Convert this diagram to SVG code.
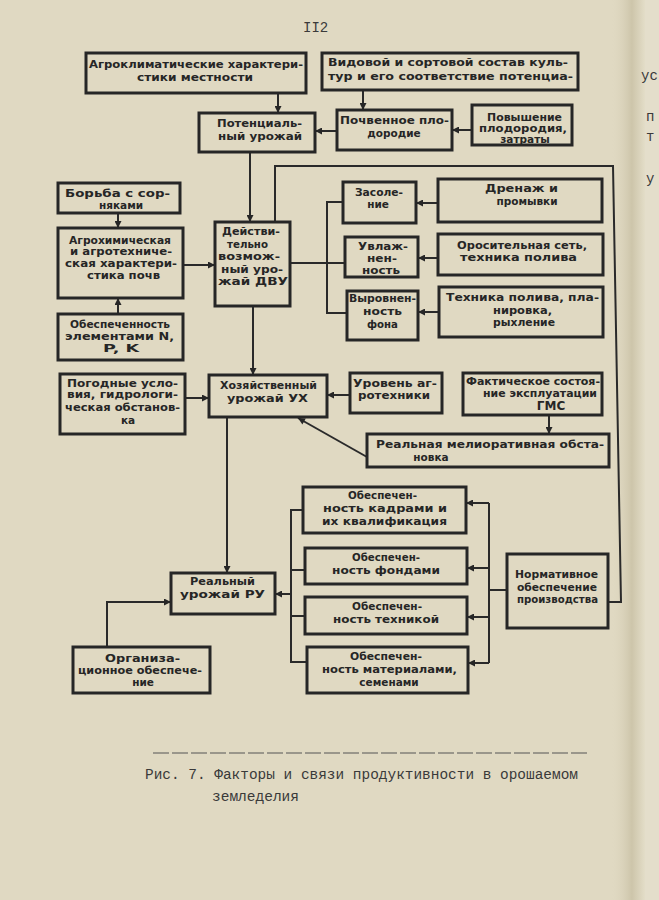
<svg xmlns="http://www.w3.org/2000/svg" width="659" height="900" viewBox="0 0 659 900">
<defs>
<style>
.b{fill:none;stroke:#262626;stroke-width:3}
.c{fill:none;stroke:#2a2a2a;stroke-width:2}
text{font-family:"DejaVu Sans","Liberation Sans",sans-serif;font-weight:bold;font-size:10.5px;fill:#262626}
.m{text-anchor:middle}
.t{font-family:"Liberation Mono","Courier New",monospace;font-weight:normal;font-size:14px;fill:#3a3a3a}
</style>
<marker id="a" viewBox="0 0 10 10" refX="10" refY="5" markerWidth="8" markerHeight="7" markerUnits="userSpaceOnUse" orient="auto">
<path d="M0,0 L10,5 L0,10 z" fill="#262626"/>
</marker>
<linearGradient id="fold" x1="0" x2="1" y1="0" y2="0">
<stop offset="0" stop-color="#ddd6bf" stop-opacity="0"/>
<stop offset="0.6" stop-color="#cdc5aa"/>
<stop offset="1" stop-color="#e3ddc8"/>
</linearGradient>
</defs>
<rect width="659" height="900" fill="#e0d9c2"/>
<rect x="612" width="33" height="900" fill="url(#fold)"/>
<rect x="645" width="14" height="900" fill="#e4decb"/>

<text class="t" x="303" y="32">II2</text>
<text class="t" x="641" y="80">ус</text>
<text class="t" x="646" y="121">п</text>
<text class="t" x="646" y="141">т</text>
<text class="t" x="646" y="183">у</text>

<g id="connectors">
<path class="c" d="M278,93 V113" marker-end="url(#a)"/>
<path class="c" d="M363,90 V110" marker-end="url(#a)"/>
<path class="c" d="M337,131 H315" marker-end="url(#a)"/>
<path class="c" d="M472,130 H452" marker-end="url(#a)"/>
<path class="c" d="M250,152 V222" marker-end="url(#a)"/>
<path class="c" d="M608,602 H621 L613,166 H275 V222"/>
<path class="c" d="M290,263 H345"/>
<path class="c" d="M343,202 H327 V313 H347"/>
<path class="c" d="M438,203 H416" marker-end="url(#a)"/>
<path class="c" d="M438,258 H418" marker-end="url(#a)"/>
<path class="c" d="M439,312 H418" marker-end="url(#a)"/>
<path class="c" d="M118,213 V228" marker-end="url(#a)"/>
<path class="c" d="M183,265 H215" marker-end="url(#a)"/>
<path class="c" d="M118,314 V298" marker-end="url(#a)"/>
<path class="c" d="M253,306 V375" marker-end="url(#a)"/>
<path class="c" d="M185,398 H209" marker-end="url(#a)"/>
<path class="c" d="M350,395 H327" marker-end="url(#a)"/>
<path class="c" d="M549,415 V434" marker-end="url(#a)"/>
<path class="c" d="M367,457 L298,418" marker-end="url(#a)"/>
<path class="c" d="M227,417 V573" marker-end="url(#a)"/>
<path class="c" d="M107,647 V602 H171" marker-end="url(#a)"/>
<path class="c" d="M291,594 H275" marker-end="url(#a)"/>
<path class="c" d="M303,510 H291 V662 H307 M291,570 H305 M291,616 H305"/>
<path class="c" d="M507,590 H489 M489,503 V663"/>
<path class="c" d="M489,503 H466" marker-end="url(#a)"/>
<path class="c" d="M489,568 H467" marker-end="url(#a)"/>
<path class="c" d="M489,617 H467" marker-end="url(#a)"/>
<path class="c" d="M489,663 H468" marker-end="url(#a)"/>
</g>

<g id="agroclimate">
<rect class="b" x="86" y="53" width="220" height="40"/>
<text x="89" y="68" textLength="214" lengthAdjust="spacingAndGlyphs">Агроклиматические характери-</text>
<text x="137" y="81" textLength="116" lengthAdjust="spacingAndGlyphs">стики местности</text>
</g>
<g id="species">
<rect class="b" x="322" y="53" width="256" height="37"/>
<text x="328" y="66" textLength="240" lengthAdjust="spacingAndGlyphs">Видовой и сортовой состав куль-</text>
<text x="328" y="80" textLength="245" lengthAdjust="spacingAndGlyphs">тур и его соответствие потенциа-</text>
</g>
<g id="potential">
<rect class="b" x="199" y="113" width="116" height="39"/>
<text x="217" y="127" textLength="85" lengthAdjust="spacingAndGlyphs">Потенциаль-</text>
<text x="218" y="140" textLength="84" lengthAdjust="spacingAndGlyphs">ный урожай</text>
</g>
<g id="soil">
<rect class="b" x="337" y="110" width="115" height="40"/>
<text x="340" y="124" textLength="109" lengthAdjust="spacingAndGlyphs">Почвенное пло-</text>
<text class="m" x="394" y="137">дородие</text>
</g>
<g id="fertility">
<rect class="b" x="472" y="105" width="100" height="40"/>
<text x="487" y="121" textLength="75" lengthAdjust="spacingAndGlyphs">Повышение</text>
<text x="479" y="132" textLength="88" lengthAdjust="spacingAndGlyphs">плодородия,</text>
<text class="m" x="525" y="143">затраты</text>
</g>
<g id="dvu">
<rect class="b" x="215" y="222" width="75" height="84"/>
<text x="222" y="235" textLength="58" lengthAdjust="spacingAndGlyphs">Действи-</text>
<text x="227" y="248" textLength="41" lengthAdjust="spacingAndGlyphs">тельно</text>
<text x="218" y="260" textLength="62" lengthAdjust="spacingAndGlyphs">возмож-</text>
<text x="221" y="273" textLength="62" lengthAdjust="spacingAndGlyphs">ный уро-</text>
<text x="218" y="285" textLength="70" lengthAdjust="spacingAndGlyphs">жай ДВУ</text>
</g>
<g id="salin">
<rect class="b" x="343" y="182" width="73" height="41"/>
<text x="355" y="196" textLength="48" lengthAdjust="spacingAndGlyphs">Засоле-</text>
<text class="m" x="378" y="208">ние</text>
</g>
<g id="drain">
<rect class="b" x="438" y="179" width="164" height="43"/>
<text x="485" y="192" textLength="73" lengthAdjust="spacingAndGlyphs">Дренаж и</text>
<text class="m" x="527" y="205">промывки</text>
</g>
<g id="moist">
<rect class="b" x="345" y="237" width="73" height="40"/>
<text x="358" y="250" textLength="50" lengthAdjust="spacingAndGlyphs">Увлаж-</text>
<text x="367" y="262" textLength="30" lengthAdjust="spacingAndGlyphs">нен-</text>
<text x="362" y="274" textLength="38" lengthAdjust="spacingAndGlyphs">ность</text>
</g>
<g id="irrig">
<rect class="b" x="438" y="234" width="165" height="41"/>
<text x="457" y="249" textLength="130" lengthAdjust="spacingAndGlyphs">Оросительная сеть,</text>
<text x="460" y="261" textLength="117" lengthAdjust="spacingAndGlyphs">техника полива</text>
</g>
<g id="level">
<rect class="b" x="347" y="291" width="71" height="49"/>
<text x="349" y="302" textLength="67" lengthAdjust="spacingAndGlyphs">Выровнен-</text>
<text x="363" y="315" textLength="39" lengthAdjust="spacingAndGlyphs">ность</text>
<text x="367" y="328" textLength="31" lengthAdjust="spacingAndGlyphs">фона</text>
</g>
<g id="tech">
<rect class="b" x="439" y="287" width="164" height="50"/>
<text x="446" y="301" textLength="153" lengthAdjust="spacingAndGlyphs">Техника полива, пла-</text>
<text x="493" y="314" textLength="59" lengthAdjust="spacingAndGlyphs">нировка,</text>
<text x="493" y="326" textLength="62" lengthAdjust="spacingAndGlyphs">рыхление</text>
</g>
<g id="weeds">
<rect class="b" x="58" y="183" width="122" height="30"/>
<text x="65" y="197" textLength="105" lengthAdjust="spacingAndGlyphs">Борьба с сор-</text>
<text class="m" x="121" y="209">няками</text>
</g>
<g id="agrochem">
<rect class="b" x="58" y="228" width="125" height="70"/>
<text x="69" y="244" textLength="102" lengthAdjust="spacingAndGlyphs">Агрохимическая</text>
<text x="70" y="255" textLength="102" lengthAdjust="spacingAndGlyphs">и агротехниче-</text>
<text x="65" y="267" textLength="112" lengthAdjust="spacingAndGlyphs">ская характери-</text>
<text x="87" y="279" textLength="73" lengthAdjust="spacingAndGlyphs">стика почв</text>
</g>
<g id="npk">
<rect class="b" x="58" y="314" width="125" height="46"/>
<text x="70" y="328" textLength="100" lengthAdjust="spacingAndGlyphs">Обеспеченность</text>
<text x="65" y="340" textLength="109" lengthAdjust="spacingAndGlyphs">элементами N,</text>
<text x="103" y="352" textLength="36" lengthAdjust="spacingAndGlyphs">P, K</text>
</g>
<g id="weather">
<rect class="b" x="60" y="374" width="125" height="60"/>
<text x="67" y="387" textLength="111" lengthAdjust="spacingAndGlyphs">Погодные усло-</text>
<text x="67" y="398" textLength="111" lengthAdjust="spacingAndGlyphs">вия, гидрологи-</text>
<text x="65" y="411" textLength="115" lengthAdjust="spacingAndGlyphs">ческая обстанов-</text>
<text class="m" x="128" y="424">ка</text>
</g>
<g id="ux">
<rect class="b" x="209" y="375" width="118" height="42"/>
<text x="220" y="389" textLength="97" lengthAdjust="spacingAndGlyphs">Хозяйственный</text>
<text x="227" y="402" textLength="81" lengthAdjust="spacingAndGlyphs">урожай УХ</text>
</g>
<g id="agrotech">
<rect class="b" x="350" y="373" width="92" height="40"/>
<text x="353" y="387" textLength="84" lengthAdjust="spacingAndGlyphs">Уровень аг-</text>
<text x="358" y="399" textLength="72" lengthAdjust="spacingAndGlyphs">ротехники</text>
</g>
<g id="gms">
<rect class="b" x="463" y="373" width="139" height="42"/>
<text x="466" y="385" textLength="134" lengthAdjust="spacingAndGlyphs">Фактическое состоя-</text>
<text x="483" y="397" textLength="114" lengthAdjust="spacingAndGlyphs">ние эксплуатации</text>
<text class="m" x="551" y="410" style="font-size:12px">ГМС</text>
</g>
<g id="melior">
<rect class="b" x="367" y="434" width="242" height="33"/>
<text x="376" y="448" textLength="228" lengthAdjust="spacingAndGlyphs">Реальная мелиоративная обста-</text>
<text class="m" x="431" y="461">новка</text>
</g>
<g id="ru">
<rect class="b" x="171" y="573" width="104" height="41"/>
<text x="190" y="585" textLength="65" lengthAdjust="spacingAndGlyphs">Реальный</text>
<text x="180" y="598" textLength="85" lengthAdjust="spacingAndGlyphs">урожай РУ</text>
</g>
<g id="org">
<rect class="b" x="73" y="647" width="137" height="46"/>
<text x="105" y="662" textLength="75" lengthAdjust="spacingAndGlyphs">Организа-</text>
<text x="78" y="674" textLength="124" lengthAdjust="spacingAndGlyphs">ционное обеспече-</text>
<text class="m" x="143" y="686">ние</text>
</g>
<g id="staff">
<rect class="b" x="303" y="487" width="163" height="46"/>
<text x="348" y="499" textLength="69" lengthAdjust="spacingAndGlyphs">Обеспечен-</text>
<text x="323" y="512" textLength="124" lengthAdjust="spacingAndGlyphs">ность кадрами и</text>
<text x="322" y="525" textLength="125" lengthAdjust="spacingAndGlyphs">их квалификация</text>
</g>
<g id="funds">
<rect class="b" x="305" y="548" width="162" height="36"/>
<text x="352" y="561" textLength="68" lengthAdjust="spacingAndGlyphs">Обеспечен-</text>
<text x="332" y="574" textLength="108" lengthAdjust="spacingAndGlyphs">ность фондами</text>
</g>
<g id="machinery">
<rect class="b" x="305" y="597" width="162" height="37"/>
<text x="352" y="610" textLength="70" lengthAdjust="spacingAndGlyphs">Обеспечен-</text>
<text x="333" y="623" textLength="106" lengthAdjust="spacingAndGlyphs">ность техникой</text>
</g>
<g id="materials">
<rect class="b" x="307" y="647" width="161" height="46"/>
<text x="350" y="660" textLength="72" lengthAdjust="spacingAndGlyphs">Обеспечен-</text>
<text x="322" y="673" textLength="135" lengthAdjust="spacingAndGlyphs">ность материалами,</text>
<text class="m" x="389" y="686">семенами</text>
</g>
<g id="normative">
<rect class="b" x="507" y="554" width="101" height="74"/>
<text x="515" y="578" textLength="83" lengthAdjust="spacingAndGlyphs">Нормативное</text>
<text x="517" y="591" textLength="80" lengthAdjust="spacingAndGlyphs">обеспечение</text>
<text x="517" y="603" textLength="81" lengthAdjust="spacingAndGlyphs">производства</text>
</g>

<g id="caption">
<line x1="153" y1="753" x2="587" y2="753" stroke="#555" stroke-width="1" stroke-dasharray="16 3"/>
<text class="t" x="145" y="779" textLength="433" lengthAdjust="spacingAndGlyphs">Рис. 7. Факторы и связи продуктивности в орошаемом</text>
<text class="t" x="212" y="801" textLength="87" lengthAdjust="spacingAndGlyphs">земледелия</text>
</g>
</svg>
